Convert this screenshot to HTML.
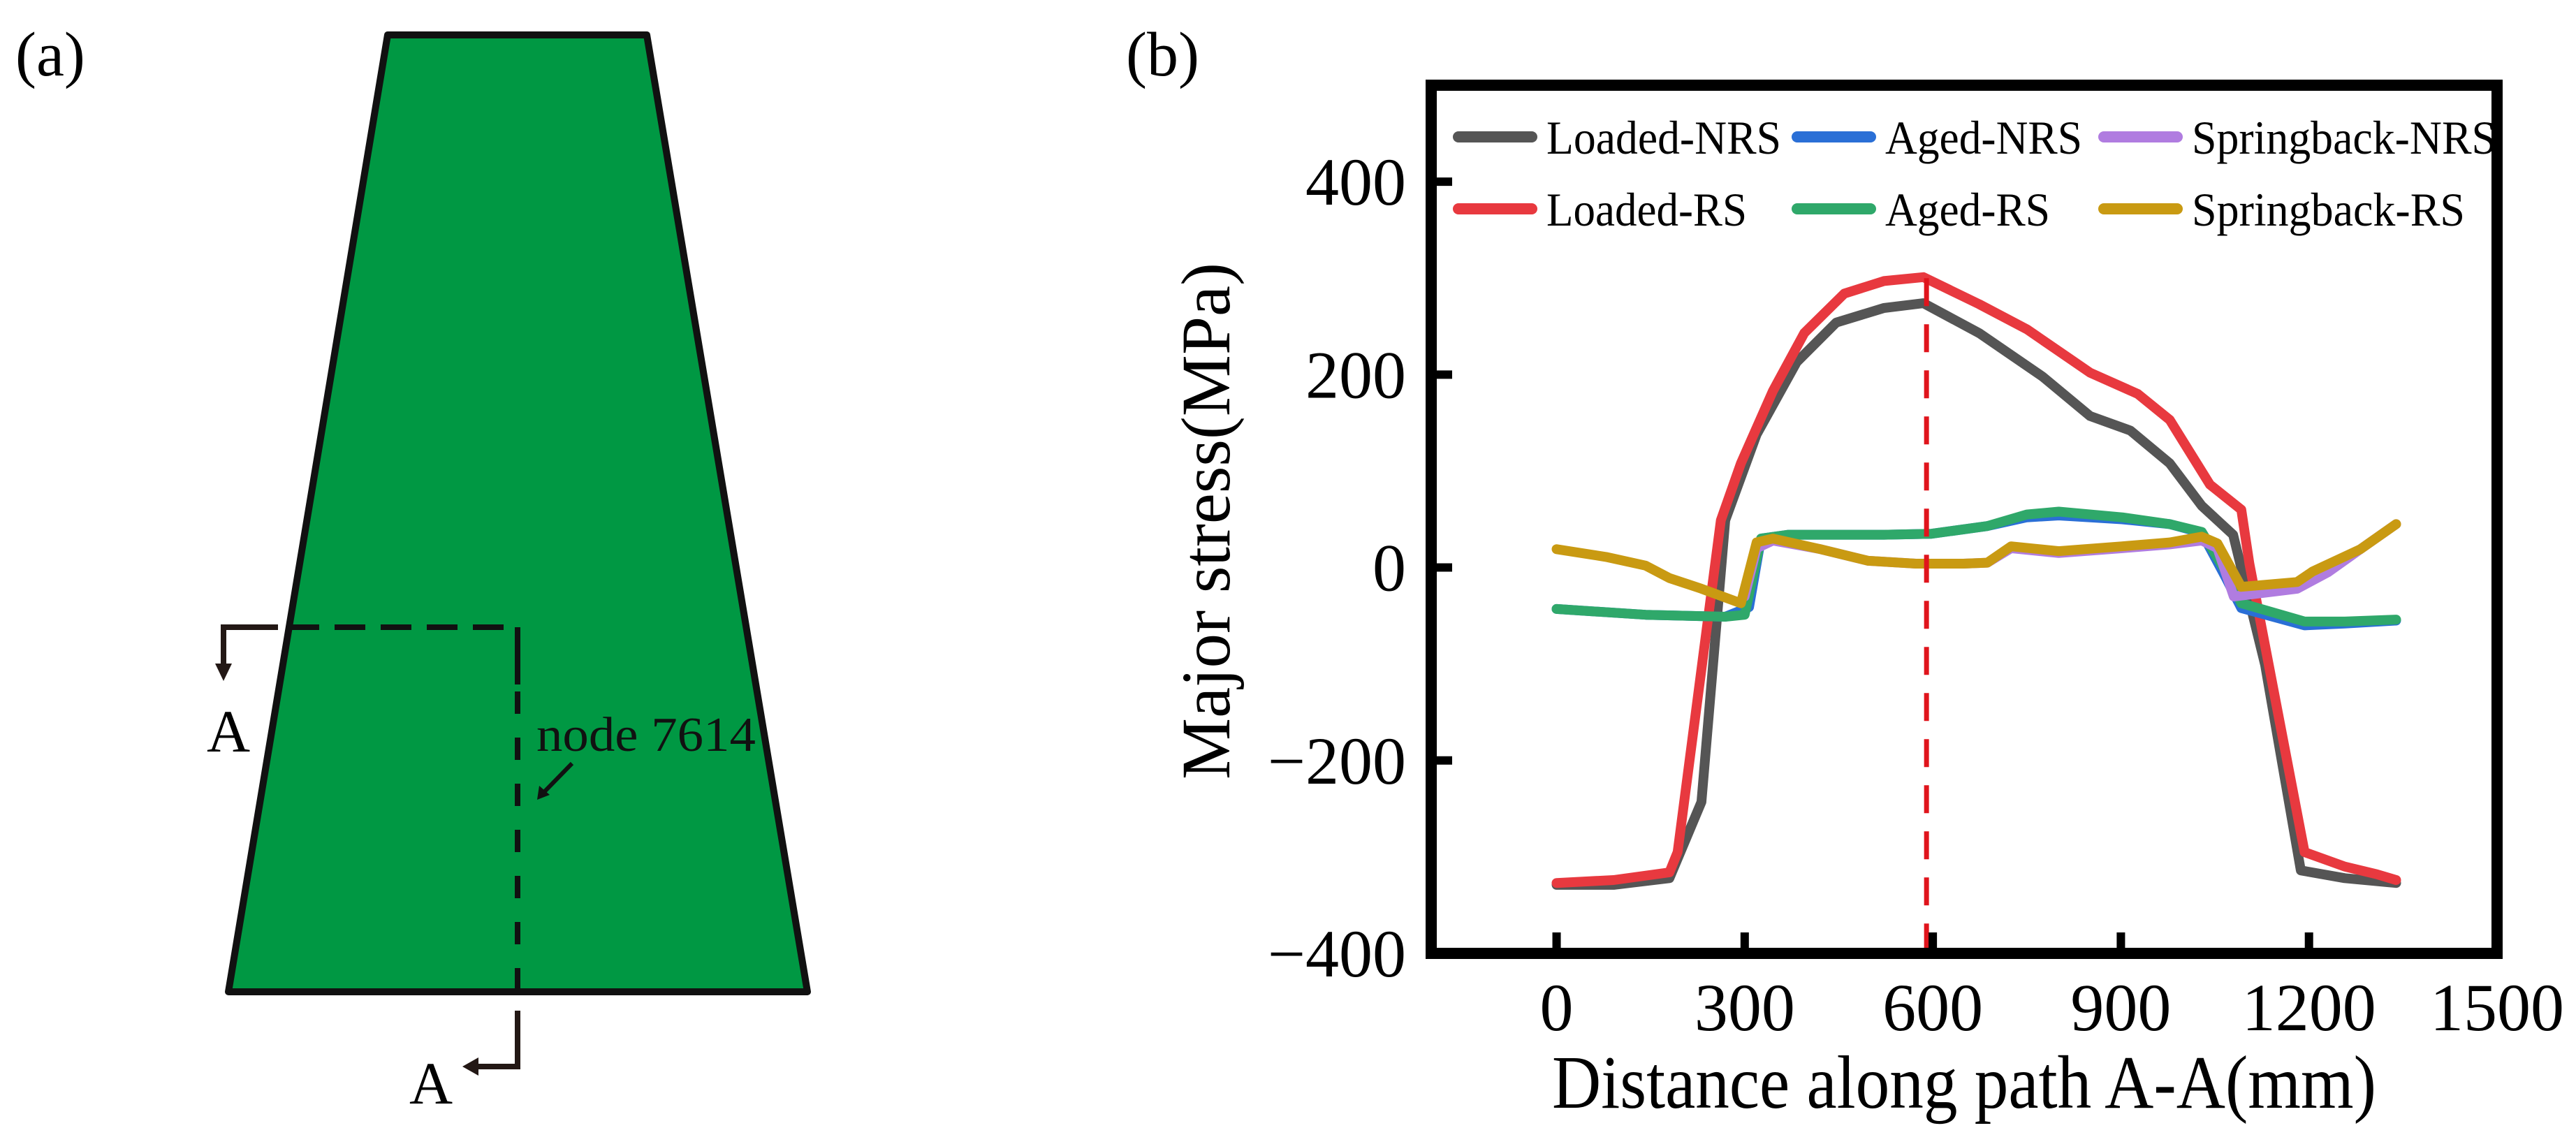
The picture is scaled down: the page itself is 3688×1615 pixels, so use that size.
<!DOCTYPE html>
<html><head><meta charset="utf-8"><style>
html,body{margin:0;padding:0;background:#fff;}
svg, svg text{font-family:"Liberation Serif","Times New Roman",serif;}
svg{display:block;}
</style></head><body>
<svg id="fig" width="3688" height="1615" viewBox="0 0 3688 1615" xmlns="http://www.w3.org/2000/svg" font-family="Liberation Serif, serif">
<g>
<text x="22" y="108" font-size="90">(a)</text>
<polygon points="555,50 926,50 1156,1420 327,1420" fill="#009843" stroke="#111" stroke-width="10" stroke-linejoin="round"/>
<path d="M398,898 L320,898 L320,955" fill="none" stroke="#231815" stroke-width="8"/>
<polygon points="308,950 332,950 320,975" fill="#231815"/>
<path d="M413,898 L741,898" fill="none" stroke="#111" stroke-width="8" stroke-dasharray="44,22"/>
<path d="M741,898 L741,980" fill="none" stroke="#111" stroke-width="8"/>
<path d="M741,990 L741,1420" fill="none" stroke="#111" stroke-width="8" stroke-dasharray="32,34"/>
<path d="M741,1447 L741,1527 L680,1527" fill="none" stroke="#231815" stroke-width="8"/>
<polygon points="685,1514 685,1540 662,1527" fill="#231815"/>
<text x="296" y="1076" font-size="86">A</text>
<text x="586" y="1580" font-size="86">A</text>
<text x="768" y="1075" font-size="70" fill="#111" textLength="314" lengthAdjust="spacingAndGlyphs">node 7614</text>
<path d="M819,1093 L776,1137" stroke="#111" stroke-width="6"/>
<polygon points="769,1145 772,1125 787,1138" fill="#111"/>
</g>
<g id="panelb">
<text x="1612" y="108" font-size="90">(b)</text>
<text transform="translate(1760,746) rotate(-90)" text-anchor="middle" font-size="100" textLength="740" lengthAdjust="spacingAndGlyphs">Major stress(MPa)</text>
<text x="2812" y="1586" text-anchor="middle" font-size="108" textLength="1180" lengthAdjust="spacingAndGlyphs">Distance along path A-A(mm)</text>
<g id="plot"></g>
</g>
</svg>
<script>
const xTicks=[0,300,600,900,1200,1500];
const yTicks=[-400,-200,0,200,400];
const seriesNames=["Loaded-NRS","Loaded-RS","Aged-NRS","Aged-RS","Springback-NRS","Springback-RS"];
const seriesColors=["#555555","#e8393f","#2a6fd6","#2fa86a","#b07ce0","#c99a12"];
const loadedNrsX=[0,91,180,231,269,319,383,446,522,585,674,775,851,915,978,1029,1079,1130,1187,1257,1339];
const loadedNrsY=[-329,-329,-322,-243,49,138,213,254,269,274,243,198,157,142,108,64,34,-101,-314,-322,-327];
const loadedRsX=[0,91,180,193,262,294,345,395,459,522,585,674,750,851,927,978,1042,1092,1105,1193,1257,1308,1339];
const loadedRsY=[-327,-324,-316,-295,49,108,183,243,284,297,301,273,247,202,180,153,86,60,4,-295,-310,-318,-324];
const agedNrsX=[0,142,269,307,326,370,522,598,687,750,801,902,978,1029,1067,1092,1193,1257,1339];
const agedNrsY=[-43,-49,-51,-41,30,34,34,35,43,52,54,50,45,36,-10,-42,-60,-58,-55];
const agedRsX=[0,142,269,300,326,370,522,598,687,750,801,902,978,1029,1067,1092,1193,1257,1339];
const agedRsY=[-43,-49,-51,-49,30,34,34,35,43,55,58,52,45,37,-4,-37,-56,-56,-54];
const sbNrsX=[300,319,345,421,497,573,649,687,725,801,902,978,1029,1054,1080,1181,1230,1282,1339];
const sbNrsY=[-30,20,28,19,7,4,4,5,20,15,20,24,28,20,-30,-22,-5,19,45];
const sbRsX=[0,79,142,180,231,294,319,345,421,497,573,649,687,725,801,902,978,1029,1054,1092,1181,1206,1282,1339];
const sbRsY=[19,11,2,-11,-22,-37,26,30,19,7,4,4,5,22,17,22,26,32,25,-20,-15,-4,19,45];
const peakX=[590];

const L=2049,R=3575,T=122,B=1365;
const xMin=-200,xMax=1500,yMin=-400,yMax=500;
const sx=v=>L+(v-xMin)/(xMax-xMin)*(R-L);
const sy=v=>B-(v-yMin)/(yMax-yMin)*(B-T);
const NS="http://www.w3.org/2000/svg";
const plot=document.getElementById('plot');
function mk(tag,attrs,parent){const e=document.createElementNS(NS,tag);for(const k in attrs)e.setAttribute(k,attrs[k]);(parent||plot).appendChild(e);return e;}
const FF='Liberation Serif, serif';

const data=[[loadedNrsX,loadedNrsY],[loadedRsX,loadedRsY],[agedNrsX,agedNrsY],[agedRsX,agedRsY],[sbNrsX,sbNrsY],[sbRsX,sbRsY]];
const lineNames=["line-loaded-nrs","line-loaded-rs","line-aged-nrs","line-aged-rs","line-springback-nrs","line-springback-rs"];
[0,1,2,3,4,5].forEach(i=>{
  const [xs,ys]=data[i];
  const d=xs.map((x,j)=>(j?'L':'M')+sx(x).toFixed(1)+','+sy(ys[j]).toFixed(1)).join(' ');
  const p=mk('path',{d:d,fill:'none',stroke:seriesColors[i],'stroke-width':14,'stroke-linejoin':'round','stroke-linecap':'round'});
  
  
});
peakX.forEach(v=>{
  const l=mk('line',{x1:sx(v),x2:sx(v),y1:sy(300),y2:B,stroke:'#e0141c','stroke-width':7,'stroke-dasharray':'40,26'});
  
  
});
const fr=mk('rect',{x:L,y:T,width:R-L,height:B-T,fill:'none',stroke:'#000','stroke-width':16});


xTicks.forEach(v=>{
  if(v<xMax){
    const t=mk('line',{x1:sx(v),x2:sx(v),y1:B,y2:B-30,stroke:'#000','stroke-width':12});
    
    
  }
  const lb=mk('text',{x:sx(v),y:1475,'text-anchor':'middle','font-size':96,'font-family':FF});
  lb.textContent=String(v);
  
  
});
yTicks.forEach(v=>{
  const t=mk('line',{x1:L,x2:L+30,y1:sy(v),y2:sy(v),stroke:'#000','stroke-width':12});
  
  
  const lb=mk('text',{x:2013,y:sy(v)+33,'text-anchor':'end','font-size':96,'font-family':FF});
  lb.textContent=(v<0?'\u2212':'')+Math.abs(v);
  
  
});
const legX=[2088,2088,2573,2573,3012,3012];
const legY=[196,299,196,299,196,299];
const legW=[336,287,282,236,436,391];
seriesNames.forEach((n,i)=>{
  const g=mk('g',{});
  
  
  mk('line',{x1:legX[i],x2:legX[i]+105,y1:legY[i],y2:legY[i],stroke:seriesColors[i],'stroke-width':16,'stroke-linecap':'round'},g);
  const t=mk('text',{x:legX[i]+126,y:legY[i]+24,'font-size':68,'font-family':FF,textLength:legW[i],lengthAdjust:'spacingAndGlyphs'},g);
  t.textContent=n;
});
</script>
</body></html>
